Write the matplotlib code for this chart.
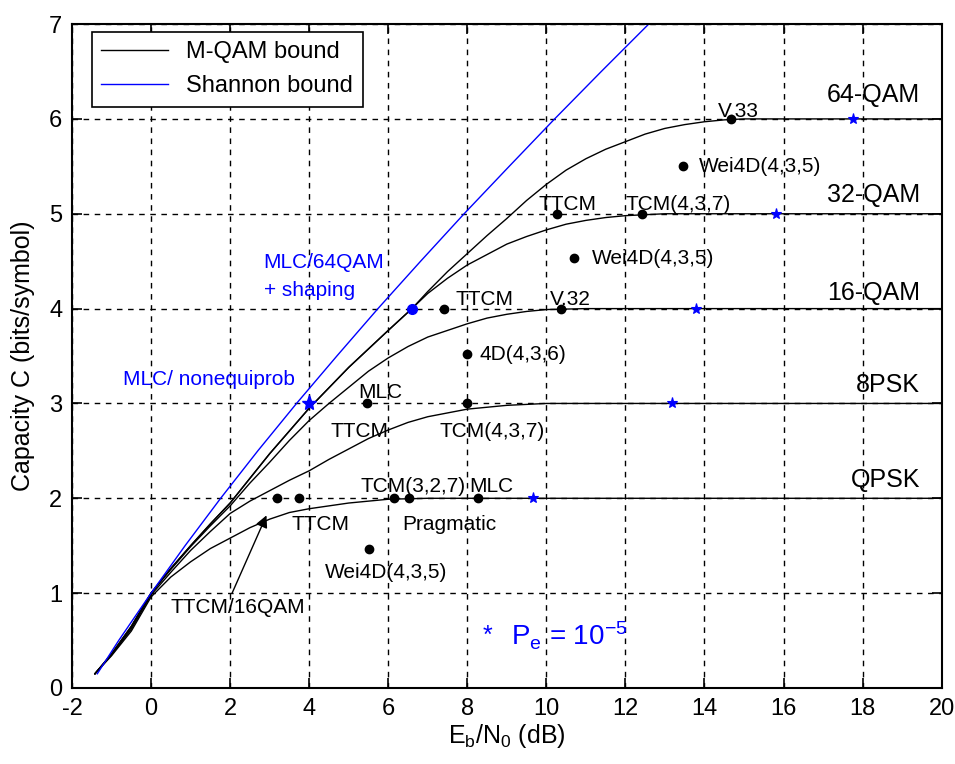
import matplotlib
matplotlib.use('Agg')
import matplotlib.pyplot as plt

plt.rcParams['font.family'] = ['Liberation Sans', 'DejaVu Sans']
plt.rcParams['mathtext.fontset'] = 'custom'
plt.rcParams['mathtext.rm'] = 'Liberation Sans'
plt.rcParams['mathtext.it'] = 'Liberation Sans'
plt.rcParams['axes.unicode_minus'] = False

# capacity curves (Eb/N0 in dB, capacity in bits/symbol)
qpsk_x = [-1.42, -1.0, -0.5, 0.0, 0.5, 1.0, 1.5, 2.0, 2.5, 3.0, 3.5, 4.0, 4.5, 5.0, 5.5, 6.0, 7.0, 20.0]
qpsk_y = [0.15, 0.34, 0.60, 0.96, 1.17, 1.33, 1.47, 1.58, 1.69, 1.78, 1.85, 1.89, 1.92, 1.95, 1.97, 1.99, 2.0, 2.0]

psk8_x = [-1.42, -1.0, -0.5, 0.0, 0.5, 1.0, 1.5, 2.0, 2.5, 3.0, 3.5, 4.0, 4.5, 5.0, 5.5, 6.0, 6.5,
          7.0, 7.5, 8.0, 8.5, 9.0, 10.0, 20.0]
psk8_y = [0.15, 0.35, 0.62, 0.98, 1.22, 1.45, 1.65, 1.84, 1.97, 2.08, 2.19, 2.29, 2.41, 2.52, 2.63, 2.72, 2.80,
          2.86, 2.90, 2.94, 2.96, 2.98, 3.0, 3.0]

qam16_x = [-1.42, -1.0, -0.5, 0.0, 0.5, 1.0, 1.5, 2.0, 2.5, 3.0, 3.5, 4.0, 4.5, 5.0, 5.5, 6.0, 6.5, 7.0, 7.5,
           8.0, 8.5, 9.0, 9.5, 10.0, 11.0, 20.0]
qam16_y = [0.15, 0.35, 0.64, 1.0, 1.25, 1.49, 1.71, 1.92, 2.16, 2.38, 2.61, 2.82, 3.0, 3.17, 3.34, 3.48, 3.60, 3.70,
           3.77, 3.84, 3.90, 3.94, 3.97, 3.99, 4.0, 4.0]

qam32_x = [-1.42, -1.0, -0.5, 0.0, 0.5, 1.0, 1.5, 2.0, 3.0, 4.0, 5.0, 6.0, 6.6, 7.0, 7.5, 8.0, 8.5, 9.0, 9.5,
           10.0, 10.5, 11.0, 11.5, 12.0, 12.5, 13.0, 20.0]
qam32_y = [0.15, 0.36, 0.65, 1.0, 1.26, 1.50, 1.73, 1.95, 2.47, 2.95, 3.38, 3.77, 4.0, 4.16, 4.32, 4.46, 4.57, 4.68,
           4.76, 4.83, 4.89, 4.93, 4.96, 4.98, 4.99, 5.0, 5.0]

qam64_x = [-1.42, -1.0, -0.5, 0.0, 0.5, 1.0, 1.5, 2.0, 3.0, 4.0, 5.0, 6.0, 6.6, 7.0, 7.5, 8.0, 8.5, 9.0, 9.5,
           10.0, 10.5, 11.0, 11.5, 12.0, 12.5, 13.0, 13.5, 14.0, 14.5, 15.0, 20.0]
qam64_y = [0.15, 0.36, 0.65, 1.0, 1.26, 1.50, 1.73, 1.95, 2.47, 2.95, 3.38, 3.77, 4.0, 4.18, 4.39, 4.58, 4.77, 4.95,
           5.14, 5.31, 5.46, 5.58, 5.68, 5.76, 5.84, 5.90, 5.94, 5.97, 5.99, 6.0, 6.0]

shannon_x = [-1.36, -0.82, 0.0, 0.86, 1.76, 2.70, 3.68, 4.70, 5.74, 6.82, 7.92, 9.06, 10.21, 11.39, 12.59]
shannon_y = [0.15, 0.5, 1.0, 1.5, 2.0, 2.5, 3.0, 3.5, 4.0, 4.5, 5.0, 5.5, 6.0, 6.5, 7.0]

# coded schemes (black dots)
code_x = [14.67, 13.45, 10.28, 12.43, 10.70, 10.37, 7.41, 8.0, 5.47, 8.0, 3.19, 3.74, 6.15, 6.53, 8.26, 5.51]
code_y = [6.0, 5.50, 5.0, 5.0, 4.53, 4.0, 4.0, 3.52, 3.0, 3.0, 2.0, 2.0, 2.0, 2.0, 2.0, 1.47]

# uncoded Pe = 1e-5 points (blue stars)
pe_x = [17.75, 15.81, 13.78, 13.18, 9.65]
pe_y = [6.0, 5.0, 4.0, 3.0, 2.0]

fig = plt.figure(figsize=(9.55, 7.64), dpi=100)
ax = fig.add_axes([0.0754, 0.0995, 0.9106, 0.869])

for cx, cy in [(qpsk_x, qpsk_y), (psk8_x, psk8_y), (qam16_x, qam16_y),
               (qam32_x, qam32_y), (qam64_x, qam64_y)]:
    ax.plot(cx, cy, color='black', lw=1.0)
l1, = ax.plot([], [], color='black', lw=1.0, label='M-QAM bound')
l2, = ax.plot(shannon_x, shannon_y, color='blue', lw=1.0, label='Shannon bound')

ax.plot(code_x, code_y, 'o', color='black', ms=6, ls='none')
ax.plot(pe_x, pe_y, '*', color='blue', ms=8, mew=0.8, ls='none')
ax.plot([6.6], [4.0], 'o', color='blue', ms=7)
ax.plot([4.0], [3.0], '*', color='blue', ms=11)
ax.plot([4.0], [3.0], 'D', color='blue', ms=4)

fs = 15
txt = [
    (14.35, 6.08, 'V.33'),
    (13.85, 5.50, 'Wei4D(4,3,5)'),
    (9.8, 5.1, 'TTCM'),
    (12.0, 5.1, 'TCM(4,3,7)'),
    (11.15, 4.53, 'Wei4D(4,3,5)'),
    (10.1, 4.1, 'V.32'),
    (7.7, 4.1, 'TTCM'),
    (8.3, 3.52, '4D(4,3,6)'),
    (5.25, 3.12, 'MLC'),
    (4.55, 2.7, 'TTCM'),
    (7.3, 2.7, 'TCM(4,3,7)'),
    (5.3, 2.12, 'TCM(3,2,7)'),
    (8.05, 2.12, 'MLC'),
    (3.55, 1.72, 'TTCM'),
    (6.35, 1.72, 'Pragmatic'),
    (4.4, 1.22, 'Wei4D(4,3,5)'),
]
for tx, ty, s in txt:
    ax.text(tx, ty, s, fontsize=fs, va='center', ha='left')

for ty, s in [(6.25, '64-QAM'), (5.2, '32-QAM'), (4.16, '16-QAM'), (3.19, '8PSK'), (2.19, 'QPSK')]:
    ax.text(19.45, ty, s, fontsize=18, va='center', ha='right')

ax.text(2.85, 4.49, 'MLC/64QAM', fontsize=fs, color='blue', va='center')
ax.text(2.85, 4.19, '+ shaping', fontsize=fs, color='blue', va='center')
ax.text(-0.7, 3.25, 'MLC/ nonequiprob', fontsize=fs, color='blue', va='center')

ax.annotate('', xy=(2.92, 1.82), xytext=(2.05, 1.0),
            arrowprops=dict(arrowstyle='-|>', color='black', lw=1.0,
                            shrinkA=0, shrinkB=0, mutation_scale=18))
ax.text(2.2, 0.85, 'TTCM/16QAM', fontsize=fs, ha='center', va='center')

ax.text(8.5, 0.55, '*', fontsize=18, color='blue', va='center', ha='center')
ax.text(9.1, 0.55, r'P$_\mathregular{e}$ = 10$^{\mathregular{-5}}$', fontsize=20,
        color='blue', va='center', ha='left')

ax.set_xlim(-2, 20)
ax.set_ylim(0, 7)
ax.set_xticks(range(-2, 21, 2))
ax.set_yticks(range(0, 8))
ax.tick_params(direction='in', top=True, right=True, labelsize=17, length=7, width=1.2, pad=7)
ax.grid(True, color='black', ls=(0, (4, 4)), lw=1.0)
for sp in ax.spines.values():
    sp.set_linewidth(1.5)

ax.set_xlabel(r'E$_\mathregular{b}$/N$_\mathregular{0}$ (dB)', fontsize=18, labelpad=2)
ax.set_ylabel('Capacity C (bits/symbol)', fontsize=18, labelpad=10)

leg = ax.legend(handles=[l1, l2], loc='upper left', fontsize=17, fancybox=False,
                edgecolor='black', framealpha=1, handlelength=2.8,
                borderaxespad=0.0, bbox_to_anchor=(0.023, 0.988))
leg.get_frame().set_linewidth(1.2)

fig.savefig('out.png', dpi=100)
